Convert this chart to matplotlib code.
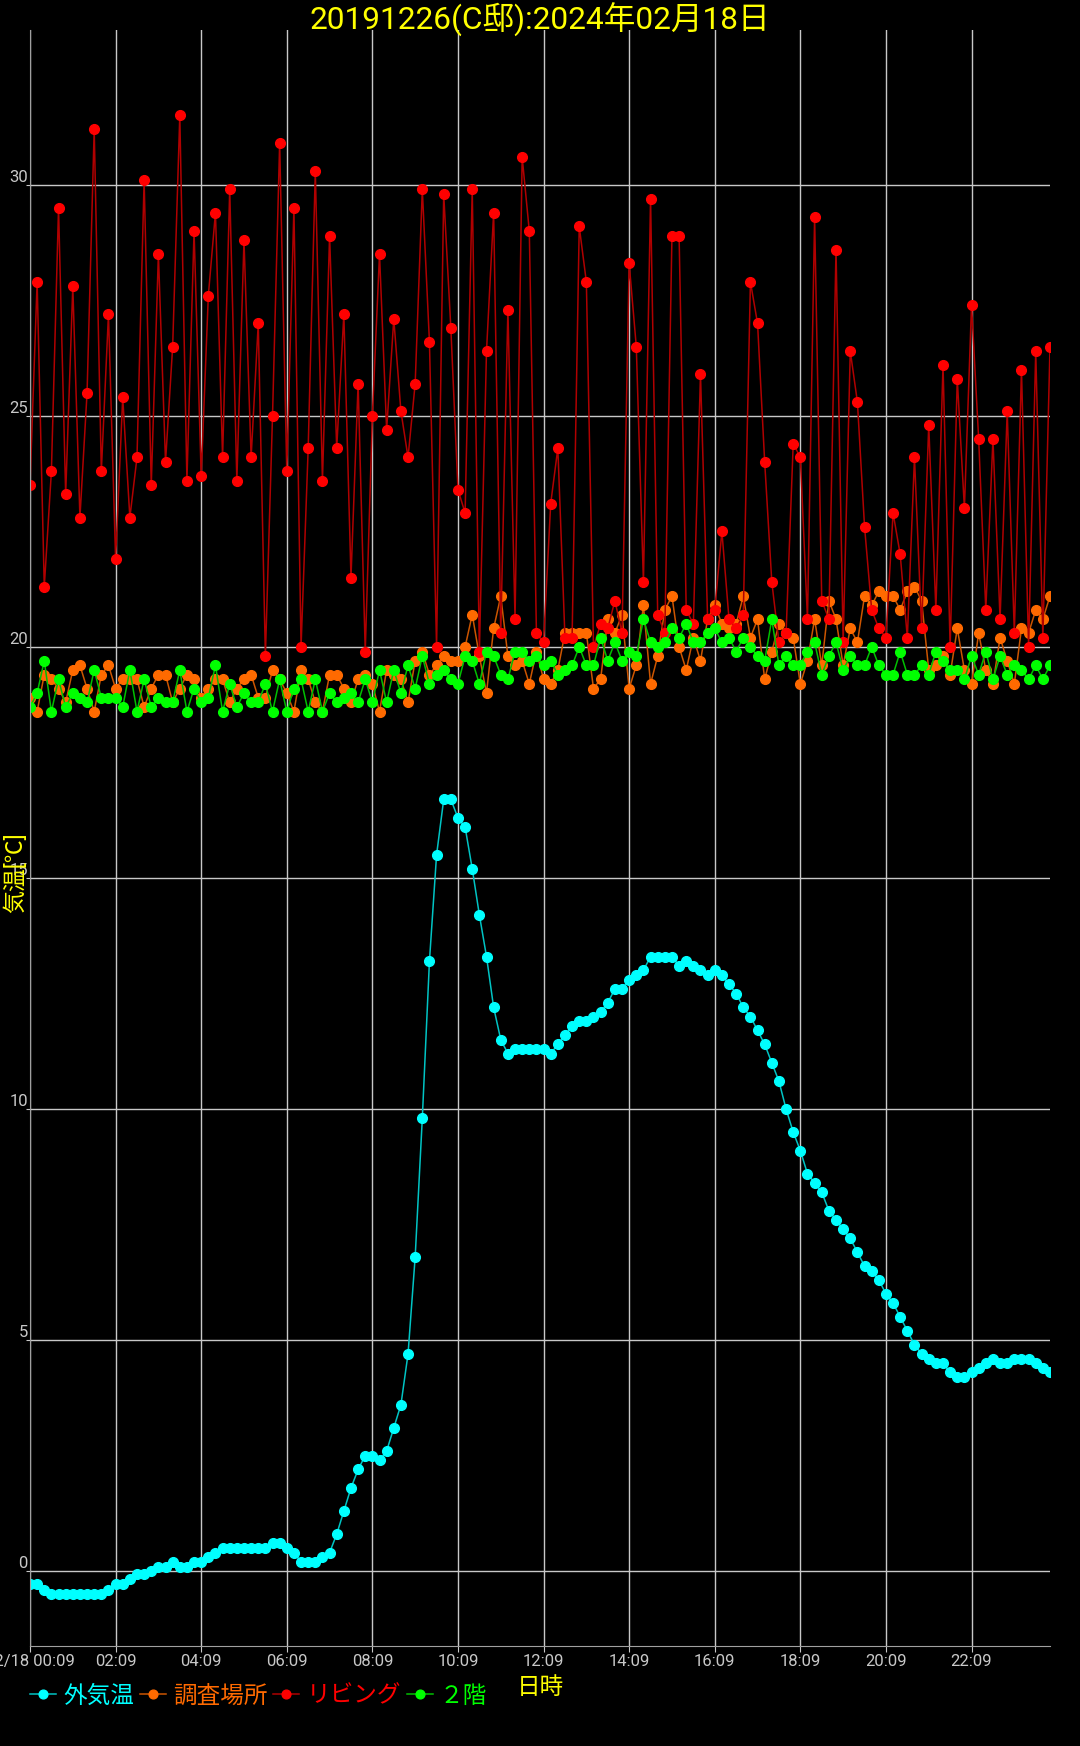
import matplotlib
matplotlib.use('Agg')
import matplotlib.pyplot as plt
import pandas as pd

plt.rcParams['font.family'] = ['Roboto', 'Noto Sans CJK JP']

# 10分間隔 (00:09 - 23:59)
times = pd.date_range('2024-02-18 00:09', periods=144, freq='10min')

# 外気温
outdoor = [
    -0.27, -0.27, -0.4, -0.5, -0.5, -0.5, -0.5, -0.5, -0.5, -0.5,
    -0.5, -0.4, -0.27, -0.27, -0.17, -0.07, -0.07, 0.0, 0.1, 0.1,
    0.2, 0.1, 0.1, 0.2, 0.2, 0.3, 0.4, 0.5, 0.5, 0.5,
    0.5, 0.5, 0.5, 0.5, 0.6, 0.6, 0.5, 0.4, 0.2, 0.2,
    0.2, 0.3, 0.4, 0.8, 1.3, 1.8, 2.2, 2.5, 2.5, 2.4,
    2.6, 3.1, 3.6, 4.7, 6.8, 9.8, 13.2, 15.5, 16.7, 16.7,
    16.3, 16.1, 15.2, 14.2, 13.3, 12.2, 11.5, 11.2, 11.3, 11.3,
    11.3, 11.3, 11.3, 11.2, 11.4, 11.6, 11.8, 11.9, 11.9, 12.0,
    12.1, 12.3, 12.6, 12.6, 12.8, 12.9, 13.0, 13.3, 13.3, 13.3,
    13.3, 13.1, 13.2, 13.1, 13.0, 12.9, 13.0, 12.9, 12.7, 12.5,
    12.2, 12.0, 11.7, 11.4, 11.0, 10.6, 10.0, 9.5, 9.1, 8.6,
    8.4, 8.2, 7.8, 7.6, 7.4, 7.2, 6.9, 6.6, 6.5, 6.3,
    6.0, 5.8, 5.5, 5.2, 4.9, 4.7, 4.6, 4.5, 4.5, 4.3,
    4.2, 4.2, 4.3, 4.4, 4.5, 4.6, 4.5, 4.5, 4.6, 4.6,
    4.6, 4.5, 4.4, 4.3,
]

# 調査場所
survey = [
    18.9, 18.6, 19.4, 19.3, 19.1, 18.8, 19.5, 19.6, 19.1, 18.6,
    19.4, 19.6, 19.1, 19.3, 19.3, 19.3, 18.7, 19.1, 19.4, 19.4,
    18.8, 19.1, 19.4, 19.3, 18.9, 19.1, 19.3, 19.3, 18.8, 19.1,
    19.3, 19.4, 18.9, 18.9, 19.5, 19.3, 19.0, 18.6, 19.5, 19.3,
    18.8, 18.6, 19.4, 19.4, 19.1, 18.8, 19.3, 19.4, 19.2, 18.6,
    19.5, 19.4, 19.3, 18.8, 19.7, 19.9, 19.4, 19.6, 19.8, 19.7,
    19.7, 20.0, 20.7, 19.8, 19.0, 20.4, 21.1, 19.8, 19.6, 19.7,
    19.2, 19.9, 19.3, 19.2, 19.5, 20.3, 20.3, 20.3, 20.3, 19.1,
    19.3, 20.6, 20.3, 20.7, 19.1, 19.6, 20.9, 19.2, 19.8, 20.8,
    21.1, 20.0, 19.5, 20.2, 19.7, 20.6, 20.9, 20.5, 20.4, 20.5,
    21.1, 20.2, 20.6, 19.3, 19.9, 20.5, 20.3, 20.2, 19.2, 19.7,
    20.6, 19.6, 21.0, 20.6, 19.6, 20.4, 20.1, 21.1, 20.9, 21.2,
    21.1, 21.1, 20.8, 21.2, 21.3, 21.0, 19.5, 19.6, 19.8, 19.4,
    20.4, 19.5, 19.2, 20.3, 19.5, 19.2, 20.2, 19.7, 19.2, 20.4,
    20.3, 20.8, 20.6, 21.1,
]

# リビング
living = [
    23.5, 27.9, 21.3, 23.8, 29.5, 23.3, 27.8, 22.8, 25.5, 31.2,
    23.8, 27.2, 21.9, 25.4, 22.8, 24.1, 30.1, 23.5, 28.5, 24.0,
    26.5, 31.5, 23.6, 29.0, 23.7, 27.6, 29.4, 24.1, 29.9, 23.6,
    28.8, 24.1, 27.0, 19.8, 25.0, 30.9, 23.8, 29.5, 20.0, 24.3,
    30.3, 23.6, 28.9, 24.3, 27.2, 21.5, 25.7, 19.9, 25.0, 28.5,
    24.7, 27.1, 25.1, 24.1, 25.7, 29.9, 26.6, 20.0, 29.8, 26.9,
    23.4, 22.9, 29.9, 19.9, 26.4, 29.4, 20.3, 27.3, 20.6, 30.6,
    29.0, 20.3, 20.1, 23.1, 24.3, 20.2, 20.2, 29.1, 27.9, 20.0,
    20.5, 20.4, 21.0, 20.3, 28.3, 26.5, 21.4, 29.7, 20.7, 20.3,
    28.9, 28.9, 20.8, 20.5, 25.9, 20.6, 20.8, 22.5, 20.6, 20.4,
    20.7, 27.9, 27.0, 24.0, 21.4, 20.1, 20.3, 24.4, 24.1, 20.6,
    29.3, 21.0, 20.6, 28.6, 20.1, 26.4, 25.3, 22.6, 20.8, 20.4,
    20.2, 22.9, 22.0, 20.2, 24.1, 20.4, 24.8, 20.8, 26.1, 20.0,
    25.8, 23.0, 27.4, 24.5, 20.8, 24.5, 20.6, 25.1, 20.3, 26.0,
    20.0, 26.4, 20.2, 26.5,
]

# ２階
floor2 = [
    18.7, 19.0, 19.7, 18.6, 19.3, 18.7, 19.0, 18.9, 18.8, 19.5,
    18.9, 18.9, 18.9, 18.7, 19.5, 18.6, 19.3, 18.7, 18.9, 18.8,
    18.8, 19.5, 18.6, 19.1, 18.8, 18.9, 19.6, 18.6, 19.2, 18.7,
    19.0, 18.8, 18.8, 19.2, 18.6, 19.3, 18.6, 19.1, 19.3, 18.6,
    19.3, 18.6, 19.0, 18.8, 18.9, 19.0, 18.8, 19.3, 18.8, 19.5,
    18.8, 19.5, 19.0, 19.6, 19.1, 19.8, 19.2, 19.4, 19.5, 19.3,
    19.2, 19.8, 19.7, 19.2, 19.9, 19.8, 19.4, 19.3, 19.9, 19.9,
    19.7, 19.8, 19.6, 19.7, 19.4, 19.5, 19.6, 20.0, 19.6, 19.6,
    20.2, 19.7, 20.1, 19.7, 19.9, 19.8, 20.6, 20.1, 20.0, 20.1,
    20.4, 20.2, 20.5, 20.1, 20.1, 20.3, 20.4, 20.1, 20.2, 19.9,
    20.2, 20.0, 19.8, 19.7, 20.6, 19.6, 19.8, 19.6, 19.6, 19.9,
    20.1, 19.4, 19.8, 20.1, 19.5, 19.8, 19.6, 19.6, 20.0, 19.6,
    19.4, 19.4, 19.9, 19.4, 19.4, 19.6, 19.4, 19.9, 19.7, 19.5,
    19.5, 19.3, 19.8, 19.4, 19.9, 19.3, 19.8, 19.4, 19.6, 19.5,
    19.3, 19.6, 19.3, 19.6,
]

names = ['外気温', '調査場所', 'リビング', '２階']
marker_colors = ['#00ffff', '#ff6a00', '#ff0000', '#00ff00']
line_colors = ['#00c4c4', '#cc5500', '#b00000', '#00c000']

yticks = [0, 5, 10, 15, 20, 25, 30]
xtick_labels = ['02/18 00:09', '02:09', '04:09', '06:09', '08:09', '10:09',
                '12:09', '14:09', '16:09', '18:09', '20:09', '22:09']

fig = plt.figure(figsize=(10.8, 17.46), dpi=100, facecolor='black')
ax = fig.add_axes([30 / 1080, 100 / 1746, 1020 / 1080, 1616 / 1746])
ax.set_facecolor('black')

for vals, name, mc, lc in zip([outdoor, survey, living, floor2], names, marker_colors, line_colors):
    ax.plot(times, vals, color=lc, lw=1.1, marker='o', ms=7,
            mfc=mc, mec=mc, label=name)

ax.set_xlim(times[0], times[-1])
ax.set_ylim(-1.62, 33.35)
ax.set_xticks(times[::12])
ax.set_xticklabels(xtick_labels)
ax.set_yticks(yticks)
ax.set_yticklabels([str(v) for v in yticks], va='bottom')

ax.grid(color='#c8c8c8', lw=1)
ax.tick_params(axis='x', colors='#c8c8c8', labelsize=12, length=4, pad=2)
ax.tick_params(axis='y', colors='#c8c8c8', labelsize=12, length=3, pad=-1.5)
for s in ['top', 'right']:
    ax.spines[s].set_visible(False)
for s in ['left', 'bottom']:
    ax.spines[s].set_color('#a0a0a0')

fig.text(0.5, 1 - 20 / 1746, '20191226(C邸):2024年02月18日', color='yellow',
         fontsize=22.8, ha='center', va='center')
fig.text(0.5, 1 - 1687 / 1746, '日時', color='yellow', fontsize=17,
         ha='center', va='center')
fig.text(15 / 1080, 1 - 873 / 1746, '気温[℃]', color='yellow', fontsize=16.5,
         rotation=90, ha='center', va='center')

fig.legend(loc='center left', bbox_to_anchor=(30 / 1080, 1 - 1696 / 1746), ncol=4,
           frameon=False, fontsize=17, handlelength=1.1, handletextpad=0.3,
           columnspacing=0.25, labelcolor='markerfacecolor', borderaxespad=0,
           borderpad=0, markerscale=0.9)

fig.savefig('out.png', dpi=100, facecolor='black')
